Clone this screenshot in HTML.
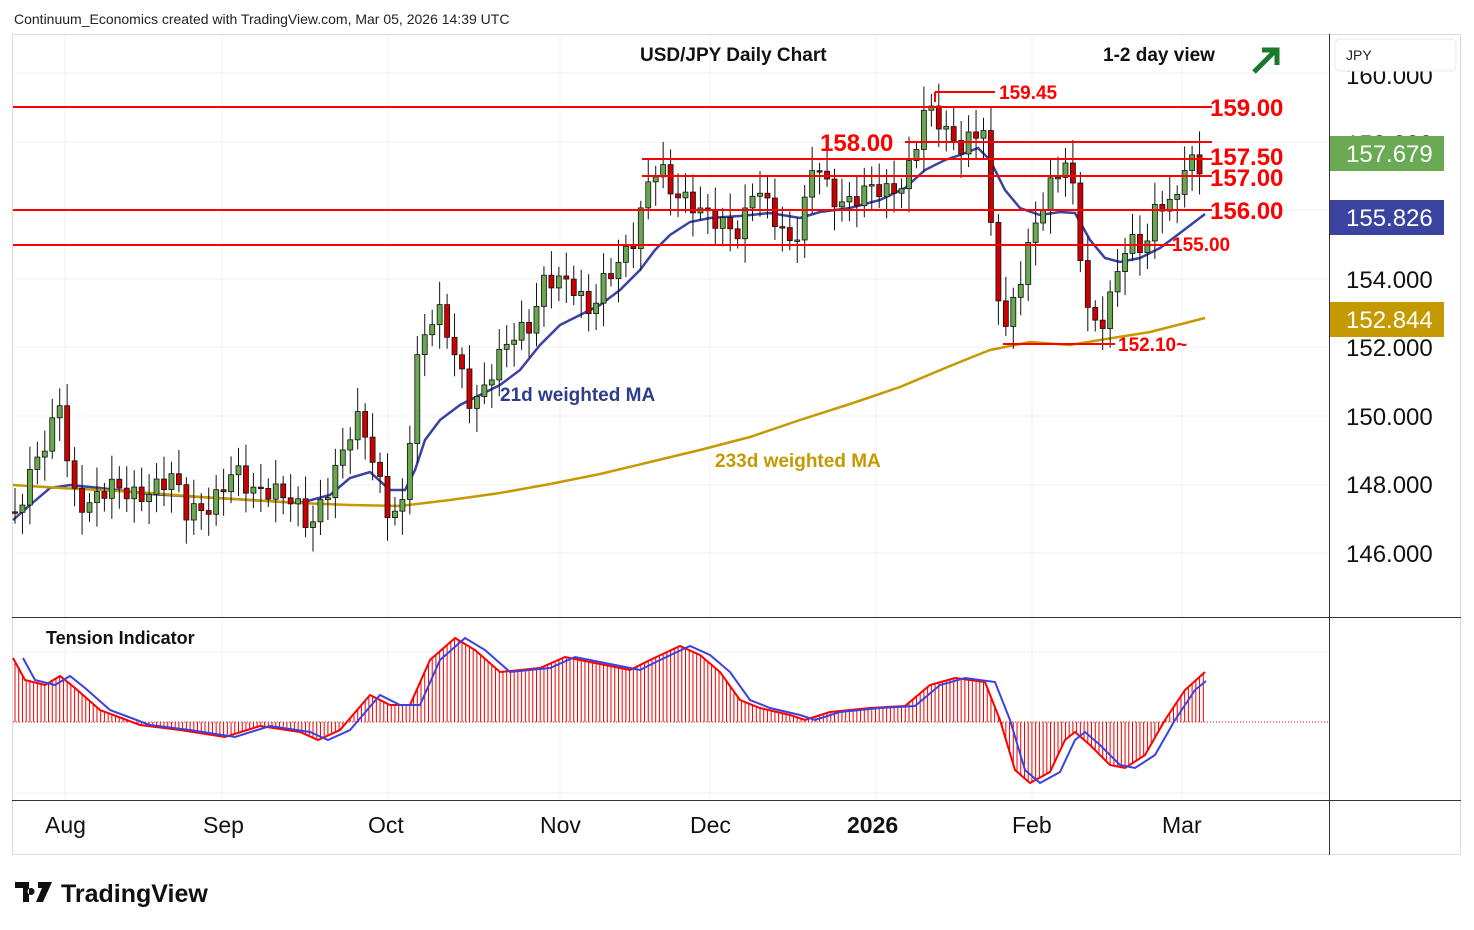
<!DOCTYPE html>
<html><head><meta charset="utf-8"><style>
body{margin:0;background:#fff;width:1474px;height:930px;overflow:hidden;font-family:"Liberation Sans",sans-serif;}
svg{position:absolute;left:0;top:0}
</style></head><body>
<svg id="s" width="1474" height="930" xmlns="http://www.w3.org/2000/svg" font-family="Liberation Sans, sans-serif">
<rect x="12.5" y="34.5" width="1448" height="820" fill="none" stroke="#d8dbe0"/>
<g id="grid" stroke="#eef0f3" stroke-width="1"></g>
<line x1="1329.5" y1="34" x2="1329.5" y2="855" stroke="#333"/>
<line x1="12" y1="617.5" x2="1461" y2="617.5" stroke="#333"/>
<line x1="12" y1="800.5" x2="1461" y2="800.5" stroke="#333"/>
<g id="tens"></g>
<g id="ma"></g>
<g id="candles"></g>
<g id="lv" stroke="#f00" stroke-width="2">
<line x1="13" y1="107" x2="1212" y2="107"/>
<line x1="905" y1="142" x2="1212" y2="142"/>
<line x1="642" y1="159" x2="1212" y2="159"/>
<line x1="642" y1="176" x2="1212" y2="176"/>
<line x1="13" y1="210" x2="1212" y2="210"/>
<line x1="13" y1="245" x2="1175" y2="245"/>
<line x1="935" y1="92" x2="995" y2="92"/>
<line x1="935" y1="92" x2="935" y2="102"/>
<line x1="1003" y1="344" x2="1115" y2="344"/>
</g>
<g fill="#f00" font-weight="bold">
<text x="1210" y="116" font-size="24">159.00</text>
<text x="820" y="151" font-size="24">158.00</text>
<text x="1210" y="165" font-size="24">157.50</text>
<text x="1210" y="186" font-size="24">157.00</text>
<text x="1210" y="219" font-size="24">156.00</text>
<text x="1172" y="251" font-size="19">155.00</text>
<text x="999" y="99" font-size="19">159.45</text>
<text x="1118" y="351" font-size="19">152.10~</text>
</g>
<text x="640" y="61" font-size="19" font-weight="bold" fill="#111">USD/JPY Daily Chart</text>
<text x="1103" y="61" font-size="19" font-weight="bold" fill="#111">1-2 day view</text>
<path d="M1254 72 L1276 50 M1262 50 L1277 50 L1277 65" stroke="#1a7a2a" stroke-width="5" fill="none"/>
<text x="500" y="401" font-size="19" font-weight="bold" fill="#2c3e8c">21d weighted MA</text>
<text x="715" y="467" font-size="19" font-weight="bold" fill="#c49a00">233d weighted MA</text>
<text x="46" y="644" font-size="18" font-weight="bold" fill="#111">Tension Indicator</text>
<text x="14" y="24" font-size="14" fill="#222">Continuum_Economics created with TradingView.com, Mar 05, 2026 14:39 UTC</text>
<g font-size="24" fill="#111">
<text x="1346" y="84">160.000</text>
<text x="1346" y="152">158.000</text>
<text x="1346" y="288">154.000</text>
<text x="1346" y="356">152.000</text>
<text x="1346" y="425">150.000</text>
<text x="1346" y="493">148.000</text>
<text x="1346" y="562">146.000</text>
</g>
<rect x="1335" y="39" width="121" height="32" rx="5" fill="#fff" stroke="#e6e8ec"/>
<text x="1346" y="60" font-size="14" fill="#222">JPY</text>
<rect x="1330" y="136" width="114" height="35" fill="#6aaa55"/>
<text x="1346" y="162" font-size="24" fill="#fff">157.679</text>
<rect x="1330" y="200" width="114" height="35" fill="#3a43a0"/>
<text x="1346" y="226" font-size="24" fill="#fff">155.826</text>
<rect x="1330" y="302" width="114" height="35" fill="#c49a00"/>
<text x="1346" y="328" font-size="24" fill="#fff">152.844</text>
<g font-size="23" fill="#111">
<text x="45" y="833">Aug</text><text x="203" y="833">Sep</text><text x="368" y="833">Oct</text>
<text x="540" y="833">Nov</text><text x="690" y="833">Dec</text><text x="847" y="833" font-weight="bold">2026</text>
<text x="1012" y="833">Feb</text><text x="1162" y="833">Mar</text>
</g>
<path d="M15 882 h14 v20 h-6 v-14 h-8z M31 888 a3.5 3.5 0 1 0 0.1 0z M38 882 h14 l-9 20 h-7 l6 -14 h-4z" fill="#111"/>
<text x="61" y="902" font-size="25" font-weight="bold" fill="#111">TradingView</text>
</svg>
<script>
const NS="http://www.w3.org/2000/svg";
function el(p,t,a){const e=document.createElementNS(NS,t);for(const k in a)e.setAttribute(k,a[k]);p.appendChild(e);return e;}
const Y=p=>553-(p-146)*34.3;
const g=document.getElementById('grid');
[65,222,388,560,710,876,1032,1182].forEach(x=>el(g,'line',{x1:x,y1:35,x2:x,y2:800}));
[73,142,210,279,347,416,485,553].forEach(y=>el(g,'line',{x1:13,y1:y,x2:1328,y2:y}));
el(g,'line',{x1:13,y1:652,x2:1328,y2:652});el(g,'line',{x1:13,y1:793,x2:1328,y2:793});
function interp(pts,x){for(let i=0;i<pts.length-1;i++){if(x>=pts[i][0]&&x<=pts[i+1][0]){const t=(x-pts[i][0])/(pts[i+1][0]-pts[i][0]);return pts[i][1]+t*(pts[i+1][1]-pts[i][1]);}}return x<pts[0][0]?pts[0][1]:pts[pts.length-1][1];}
const K=[[15,147],[30,148.3],[50,149.5],[62,150.6],[70,147.8],[85,147.3],[110,148],[140,147.6],[175,148.3],[185,147.2],[210,147.3],[235,148.5],[250,147.8],[275,147.8],[295,147.5],[310,146.7],[330,148],[350,149.5],[360,150],[375,148.5],[390,147],[405,147.5],[410,149.5],[418,151.8],[430,152.8],[440,153],[455,151.8],[470,150.4],[480,150.5],[495,151.5],[510,152.3],[530,152.6],[545,154],[570,153.9],[590,153],[605,154],[620,154.5],[635,155.2],[650,157],[660,157.3],[670,156.6],[690,156.2],[710,155.8],[740,155.3],[755,156.8],[770,156],[790,155],[800,155.5],[815,157.6],[825,156.9],[830,156.3],[850,156.2],[870,156.7],[890,156.5],[905,156.8],[915,157.8],[925,159],[935,158.8],[945,158.3],[960,157.8],[975,158.2],[984,158.4],[988,156],[995,154.6],[1003,152.2],[1010,153],[1025,154.5],[1035,155.6],[1045,156.3],[1055,157],[1068,157.5],[1076,156],[1082,154.3],[1088,153],[1095,152.7],[1105,152.8],[1112,153.6],[1122,154.8],[1135,155.1],[1145,154.8],[1155,156],[1165,156.3],[1175,156],[1182,157.3],[1190,157.5],[1198,157],[1205,157.7]];
const c=document.getElementById('candles');
let prev=147.2,i=0;
for(let x=15;x<=1206;x+=7.45){i++;
 let cl=interp(K,x)+(Math.sin(i*2.3)*0.25);
 if(x>1200)cl=157.68;
 const o=prev;const hi=Math.max(o,cl)+0.2+Math.abs(Math.sin(i*1.7))*0.5;const lo=Math.min(o,cl)-0.2-Math.abs(Math.cos(i*1.3))*0.5;
 const up=cl>=o;const col=up?'#6aa84f':'#cc0000';
 el(c,'line',{x1:x,y1:Y(hi),x2:x,y2:Y(lo),stroke:'#111','stroke-width':1});
 const y1=Y(Math.max(o,cl)),y2=Y(Math.min(o,cl));
 el(c,'rect',{x:x-2.5,y:y1,width:5,height:Math.max(1.5,y2-y1),fill:col,stroke:'#111','stroke-width':0.8});
 prev=cl;}
const m=document.getElementById('ma');
const MA=[[13,520],[30,505],[50,488],[70,485],[100,488],[150,494],[200,497],[250,500],[300,503],[330,495],[350,478],[370,472],[390,490],[405,490],[415,470],[425,440],[440,420],[460,405],[480,395],[500,385],[520,370],[540,345],[560,325],[580,315],[600,305],[620,290],[640,270],[655,250],[670,235],[690,222],[710,218],[740,216],[770,213],[800,218],[820,212],[850,208],[880,200],[905,188],[925,170],[945,160],[960,155],[978,148],[990,160],[1005,190],[1020,208],[1040,215],[1060,212],[1075,213],[1090,240],[1105,258],[1120,262],[1140,258],[1160,248],[1180,233],[1205,214]];
el(m,'polyline',{points:MA.map(p=>p.join(',')).join(' '),fill:'none',stroke:'#3a43a0','stroke-width':2.5});
const MB=[[13,485],[60,488],[100,490],[150,493],[200,497],[250,500],[300,503],[350,505],[400,506],[450,500],[500,493],[550,484],[600,474],[650,462],[700,450],[750,437],[800,420],[850,404],[900,387],[950,366],[990,350],[1030,342],[1070,345],[1100,340],[1150,332],[1205,318]];
el(m,'polyline',{points:MB.map(p=>p.join(',')).join(' '),fill:'none',stroke:'#c49a00','stroke-width':2.5});
const T=[[13,658],[25,680],[45,685],[60,676],[75,688],[100,710],[140,725],[180,730],[225,737],[260,726],[300,732],[318,740],[340,730],[370,695],[390,705],[410,705],[430,660],[455,638],[475,650],[500,672],[540,668],[565,657],[590,662],[630,670],[650,660],[680,646],[700,655],[720,672],[740,700],[760,708],[790,715],[805,720],[830,712],[870,708],[905,706],[930,685],[955,678],[985,682],[1000,720],[1015,770],[1030,783],[1050,772],[1065,740],[1075,732],[1090,745],[1110,765],[1125,768],[1145,755],[1165,720],[1185,690],[1205,672]];
const t=document.getElementById('tens');
el(t,'line',{x1:13,y1:722,x2:1328,y2:722,stroke:'#f00','stroke-width':1,'stroke-dasharray':'1,2'});
for(let x=15;x<=1206;x+=7.45/2){el(t,'line',{x1:x,y1:722,x2:x,y2:interp(T,x),stroke:'#e00','stroke-width':1});}
el(t,'polyline',{points:T.map(p=>p.join(',')).join(' '),fill:'none',stroke:'#f00','stroke-width':2});
el(t,'polyline',{points:T.map(p=>[p[0]+10,p[1]].join(',')).filter((s,j)=>T[j][0]+10<=1206).join(' ')+' 1206,681',fill:'none',stroke:'#3a43e0','stroke-width':2});
</script>
</body></html>
